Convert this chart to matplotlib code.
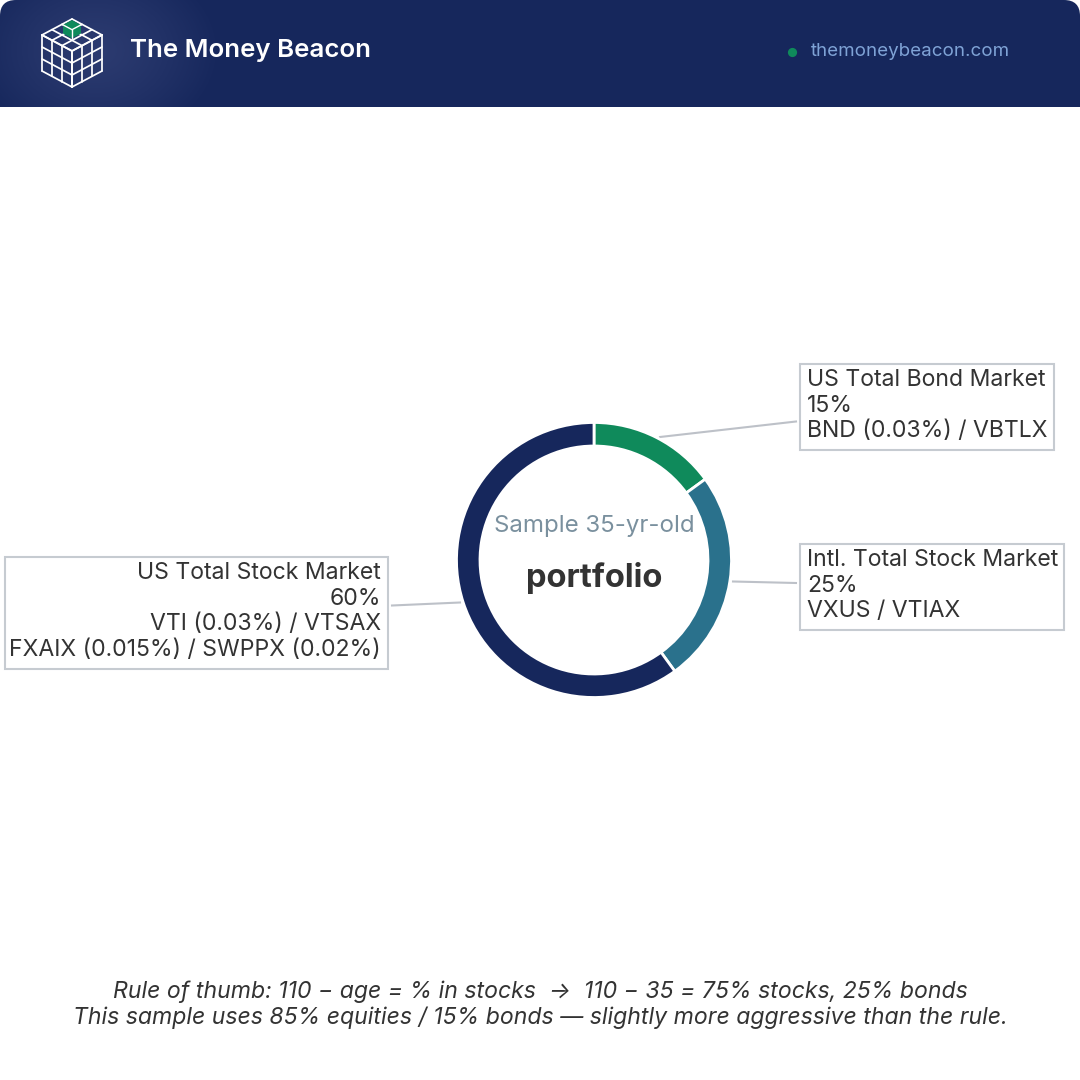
import numpy as np
import matplotlib
matplotlib.use("Agg")
import matplotlib.pyplot as plt
from matplotlib.patches import FancyBboxPatch, Rectangle, Polygon, Circle
from matplotlib.path import Path
from matplotlib.patches import PathPatch

plt.rcParams['font.family'] = ['Inter', 'DejaVu Sans']

# ---- data ----
slice_names = ["US Total Bond Market", "Intl. Total Stock Market", "US Total Stock Market"]
slice_values = [15, 25, 60]
slice_colors = ["#0F8A5B", "#2A718C", "#16275C"]
slice_funds = [["BND (0.03%) / VBTLX"],
               ["VXUS / VTIAX"],
               ["VTI (0.03%) / VTSAX", "FXAIX (0.015%) / SWPPX (0.02%)"]]
center_top = "Sample 35-yr-old"
center_bottom = "portfolio"
footnotes = ["Rule of thumb: 110 \u2212 age = % in stocks  \u2192  110 \u2212 35 = 75% stocks, 25% bonds",
             "This sample uses 85% equities / 15% bonds \u2014 slightly more aggressive than the rule."]
brand = "The Money Beacon"
site = "themoneybeacon.com"

W, H = 1080, 1080
NAVY = "#16275C"
TXT = "#333333"
fig = plt.figure(figsize=(W/100, H/100), dpi=100, facecolor="white")
ov = fig.add_axes([0, 0, 1, 1], zorder=1)
ov.set_xlim(0, W); ov.set_ylim(H, 0); ov.axis("off")

# ---- header band ----
yy, xx = np.mgrid[0:107, 0:W]
d = np.clip(np.hypot((xx-95)/125., (yy-50)/95.), 0, 1)
c0 = np.array(matplotlib.colors.to_rgb("#2C3B70")); c1 = np.array(matplotlib.colors.to_rgb(NAVY))
t = (d**1.3)[..., None]
img = c0*(1-t) + c1*t
band = FancyBboxPatch((0, 0), W, 140, boxstyle="round,pad=0,rounding_size=16",
                      fc="none", ec="none", transform=ov.transData)
ov.add_patch(band)
im = ov.imshow(img, extent=(0, W, 107, 0), aspect="auto", zorder=1, interpolation="bilinear")
im.set_clip_path(band)
ov.set_xlim(0, W); ov.set_ylim(H, 0)

# logo: 3x3x3 isometric cube
T = np.array([72., 19.]); ex = np.array([10., 5.33]); ey = np.array([-10., 5.33]); ez = np.array([0., 12.])
def iso(a, b, c):
    return T + a*ex + b*ey + c*ez
lk = dict(color="white", lw=1.25, zorder=3, solid_capstyle="round")
def seg(p, q):
    ov.plot([p[0], q[0]], [p[1], q[1]], **lk)
for i in range(4):
    seg(iso(i, 0, 0), iso(i, 3, 0)); seg(iso(0, i, 0), iso(3, i, 0))
    seg(iso(3, i, 0), iso(3, i, 3)); seg(iso(3, 0, i), iso(3, 3, i))
    seg(iso(i, 3, 0), iso(i, 3, 3)); seg(iso(0, 3, i), iso(3, 3, i))
# raised green corner cube
G = "#0F8A5B"
ov.add_patch(Polygon([iso(.1, .1, 0), iso(1, .1, 0)+[0, .3], iso(1, 1, 0), iso(.1, 1, 0)], fc=G, ec="none", zorder=4))
ov.add_patch(Polygon([iso(.1, 1, 0), iso(1, 1, 0), iso(1, 1, .72), iso(.1, 1, .72)], fc=G, ec="none", zorder=4))
ov.add_patch(Polygon([iso(1, .1, 0), iso(1, 1, 0), iso(1, 1, .72), iso(1, .1, .72)], fc=G, ec="none", zorder=4))
ov.plot(*zip(iso(1, 1, 0), iso(1, 1, .72)), color="white", lw=1, zorder=5)
ov.plot(*zip(iso(.1, 1, 0), iso(1, 1, 0), iso(1, .1, 0)), color="white", lw=1, zorder=5)

ov.text(130, 51, brand, color="white", fontsize=18.6, fontweight="semibold", va="center", ha="left", zorder=5)
ov.add_patch(Circle((792.5, 52.5), 4.6, fc=G, ec="none", zorder=5))
ov.text(811, 51.5, site, color="#7FA3D6", fontsize=13.5, va="center", ha="left", zorder=5)

# ---- donut ----
cx, cy, R = 594, 560, 137.5
axd = fig.add_axes([(cx-R)/W, 1-(cy+R)/H, 2*R/W, 2*R/H], zorder=2)
axd.pie(slice_values, colors=slice_colors, startangle=90, counterclock=False, radius=1,
        wedgeprops=dict(width=23.5/R, edgecolor="white", linewidth=2))
axd.set_xlim(-1, 1); axd.set_ylim(-1, 1); axd.set_aspect("equal"); axd.patch.set_alpha(0)

ov.text(594, 526, center_top, color="#7A909E", fontsize=17.3, ha="center", va="center", zorder=5)
ov.text(594, 578, center_bottom, color=TXT, fontsize=23.5, fontweight="bold", ha="center", va="center", zorder=5)

# ---- callouts ----
cum = np.cumsum([0] + slice_values)
mid = [(cum[i]+cum[i+1])/2/100*2*np.pi for i in range(3)]
boxes = [(800, 364, 1054, 450), (800, 544, 1064, 630), (5, 557, 388, 669)]
leader = [(660, 437, 796, 421.5), (733, 581.5, 796, 583), (392, 605.5, 460, 602.5)]
line_h = 25.6
for i in range(3):
    x0, y0, x1, y1 = boxes[i]
    ov.add_patch(Rectangle((x0, y0), x1-x0, y1-y0, fc="white", ec="#C6CBD1", lw=1.5, zorder=4))
    lx0, ly0, lx1, ly1 = leader[i]
    ov.plot([lx0, lx1], [ly0, ly1], color="#BDC1C8", lw=1.5, zorder=3)
    lines = [slice_names[i], f"{slice_values[i]}%"] + slice_funds[i]
    left = i < 2
    tx = x0+7 if left else x1-7
    for j, s in enumerate(lines):
        ov.text(tx, y0+16+j*line_h, s, color=TXT, fontsize=16.6, ha="left" if left else "right",
                va="center", zorder=5)

# ---- footnote ----
for j, s in enumerate(footnotes):
    ov.text(540, 992+j*25.5, s, color=TXT, fontsize=16.6, style="italic", ha="center", va="center", zorder=5)

fig.savefig("out.png", dpi=100, facecolor="white")
